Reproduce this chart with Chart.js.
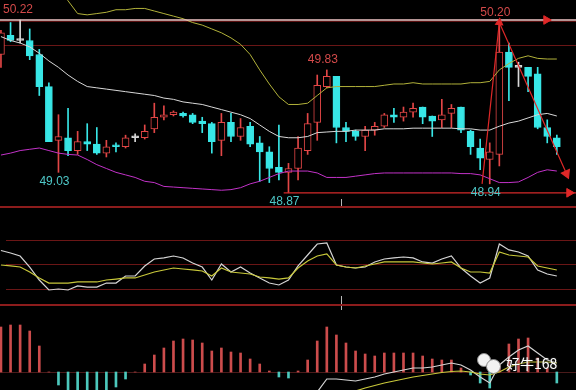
<!DOCTYPE html>
<html>
<head>
<meta charset="utf-8">
<script src="https://cdn.jsdelivr.net/npm/chart.js@4.4.0/dist/chart.umd.min.js"></script>
<style>
  html, body { margin: 0; padding: 0; background: #000; }
  #wrap { position: relative; width: 576px; height: 390px; overflow: hidden; background: #000; }
  canvas { position: absolute; left: 0; }
  .sep { position: absolute; left: 0; width: 576px; height: 2px; background: #8c1c1c; }
  .tick { position: absolute; left: 341px; width: 1px; background: #b8b8b8; }
  .bub { position: absolute; border-radius: 50%; background: #f2f2f2; border: 1px solid #8a8a8a; }
  #wm { position: absolute; left: 506px; top: 353px; color: #fff; font: 14px "Noto Sans CJK SC", sans-serif; text-shadow: 0 0 2px #444; }
</style>
</head>
<body>
<div id="wrap">
  <canvas id="kline" width="576" height="206" style="top:0"></canvas>
  <canvas id="osc" width="576" height="98" style="top:207px"></canvas>
  <canvas id="macd" width="576" height="85" style="top:305px"></canvas>
  <div class="sep" style="top:206px"></div>
  <div class="sep" style="top:304px"></div>
  <div class="tick" style="top:199px;height:7px"></div>
  <div class="tick" style="top:296px;height:8px"></div>
  <div class="tick" style="top:306px;height:4px"></div>
  <div class="bub" style="left:477px;top:353px;width:12px;height:12px"></div>
  <div class="bub" style="left:486px;top:359px;width:13px;height:13px"></div>
  <div id="wm">好牛168</div>
</div>
<script>
// daily candles
const opens = [49.95, 50.10, 50.06, 50.06, 49.95, 49.70, 49.28, 49.30, 49.20, 49.27,
  49.25, 49.18, 49.24, 49.23, 49.30, 49.30, 49.37, 49.46, 49.48, 49.49,
  49.48, 49.43, 49.41, 49.28, 49.42, 49.31, 49.39, 49.26, 49.19, 49.07,
  49.03, 49.06, 49.20, 49.42, 49.70, 49.78, 49.38, 49.35, 49.31, 49.36,
  49.39, 49.48, 49.46, 49.50, 49.54, 49.47, 49.44, 49.49, 49.54, 49.35,
  49.22, 49.13, 49.17, 49.97, 49.85, 49.85, 49.80, 49.38, 49.30];
const closes = [50.12, 50.06, 50.06, 49.94, 49.70, 49.27, 49.31, 49.20, 49.27, 49.25,
  49.18, 49.23, 49.23, 49.30, 49.30, 49.35, 49.46, 49.48, 49.50, 49.47,
  49.42, 49.41, 49.27, 49.42, 49.31, 49.38, 49.25, 49.19, 49.06, 49.03,
  49.06, 49.22, 49.41, 49.71, 49.78, 49.38, 49.35, 49.31, 49.36, 49.39,
  49.48, 49.46, 49.50, 49.53, 49.46, 49.43, 49.48, 49.53, 49.36, 49.23,
  49.14, 49.19, 49.97, 49.85, 49.85, 49.78, 49.38, 49.31, 49.23];
const highs = [50.14, 50.20, 50.22, 50.15, 49.99, 49.73, 49.48, 49.53, 49.35, 49.41,
  49.38, 49.28, 49.26, 49.32, 49.33, 49.40, 49.57, 49.55, 49.51, 49.50,
  49.49, 49.46, 49.42, 49.49, 49.49, 49.45, 49.42, 49.31, 49.23, 49.40,
  49.10, 49.31, 49.49, 49.79, 49.83, 49.78, 49.42, 49.36, 49.39, 49.42,
  49.49, 49.53, 49.54, 49.57, 49.54, 49.47, 49.60, 49.56, 49.54, 49.36,
  49.29, 49.26, 50.20, 50.04, 49.89, 49.85, 49.85, 49.44, 49.32];
const lows = [49.85, 50.05, 50.04, 49.91, 49.63, 49.27, 49.03, 49.16, 49.17, 49.20,
  49.17, 49.15, 49.19, 49.22, 49.27, 49.29, 49.34, 49.44, 49.47, 49.46,
  49.41, 49.34, 49.18, 49.16, 49.27, 49.28, 49.23, 48.96, 48.95, 48.97,
  48.87, 48.97, 49.17, 49.28, 49.69, 49.26, 49.27, 49.28, 49.20, 49.32,
  49.38, 49.42, 49.43, 49.46, 49.41, 49.31, 49.38, 49.38, 49.34, 49.17,
  49.05, 48.94, 49.08, 49.59, 49.70, 49.66, 49.37, 49.26, 49.17];

// bollinger bands
const bollUpper = [50.83, 50.80, 50.76, 50.70, 50.63, 50.55, 50.46, 50.37, 50.27, 50.26,
  50.27, 50.28, 50.30, 50.30, 50.31, 50.31, 50.29, 50.27, 50.25, 50.23,
  50.20, 50.18, 50.15, 50.12, 50.08, 50.03, 49.95, 49.83, 49.72, 49.62,
  49.56, 49.56, 49.57, 49.63, 49.69, 49.70, 49.70, 49.70, 49.70, 49.70,
  49.71, 49.72, 49.72, 49.73, 49.72, 49.72, 49.72, 49.72, 49.72, 49.73,
  49.73, 49.74, 49.83, 49.88, 49.92, 49.94, 49.92, 49.915, 49.915];
const bollMid = [50.09, 50.06, 50.04, 50.01, 49.96, 49.90, 49.85, 49.79, 49.74, 49.70,
  49.69, 49.68, 49.67, 49.66, 49.65, 49.64, 49.63, 49.61, 49.60, 49.58,
  49.57, 49.56, 49.54, 49.52, 49.50, 49.48, 49.45, 49.40, 49.35, 49.31,
  49.30, 49.30, 49.31, 49.34, 49.345, 49.35, 49.35, 49.36, 49.36, 49.36,
  49.37, 49.37, 49.37, 49.375, 49.375, 49.375, 49.375, 49.375, 49.37, 49.37,
  49.36, 49.36, 49.39, 49.415, 49.43, 49.455, 49.48, 49.49, 49.47];
const bollLower = [49.165, 49.18, 49.20, 49.21, 49.22, 49.20, 49.18, 49.17, 49.165, 49.13,
  49.09, 49.06, 49.03, 49.01, 48.99, 48.96, 48.95, 48.92, 48.915, 48.91,
  48.905, 48.90, 48.895, 48.89, 48.895, 48.91, 48.94, 48.96, 48.99, 49.02,
  49.04, 49.04, 49.04, 49.025, 48.99, 48.99, 48.99, 49.00, 49.01, 49.02,
  49.025, 49.025, 49.025, 49.025, 49.025, 49.025, 49.025, 49.025, 49.02, 49.02,
  49.01, 48.98, 48.95, 48.95, 48.955, 48.99, 49.03, 49.05, 49.04];

// marked highs / lows and drawn lines
const highMarks = [2, 34, 52];
const lowMarks = [6, 30, 51];
const trendX = [50.2, 52, 59.0];
const trendY = [48.94, 50.20, 49.02];

// middle panel oscillator
const oscFast = [67.1, 64.1, 60.4, 46.9, 31.0, 18.8, 20.0, 18.8, 23.7, 22.4,
  22.4, 27.3, 27.3, 35.9, 35.9, 48.2, 56.7, 58.0, 60.4, 58.0,
  51.8, 46.9, 31.0, 50.6, 40.8, 46.9, 39.6, 33.5, 27.3, 24.9,
  31.0, 48.2, 61.6, 75.1, 76.3, 49.4, 46.9, 45.7, 46.9, 53.1,
  56.7, 58.0, 59.2, 58.0, 53.1, 51.8, 56.7, 60.4, 45.7, 35.9,
  27.3, 33.5, 75.1, 67.8, 65.3, 60.4, 43.3, 38.4, 35.9];
const oscSlow = [49.4, 48.2, 46.9, 40.8, 33.5, 27.3, 27.3, 27.3, 28.6, 28.6,
  28.6, 31.0, 32.2, 33.5, 33.5, 37.1, 40.8, 43.3, 45.7, 44.5,
  43.3, 42.0, 35.9, 45.7, 40.8, 39.6, 38.4, 34.7, 33.5, 32.2,
  33.5, 45.7, 54.3, 60.4, 62.9, 49.4, 46.9, 45.7, 48.2, 50.6,
  53.1, 53.1, 53.1, 53.1, 51.8, 50.6, 51.8, 53.1, 45.7, 40.8,
  40.8, 39.6, 65.3, 61.6, 60.4, 59.2, 48.2, 45.7, 43.3];
const oscGrid = [20, 50, 80];

// bottom panel macd
const macdHist = [0.045, 0.047, 0.047, 0.041, 0.026, 0.000, -0.013, -0.020, -0.020, -0.020,
  -0.020, -0.018, -0.015, -0.007, 0.000, 0.008, 0.017, 0.024, 0.031, 0.033,
  0.032, 0.029, 0.021, 0.024, 0.020, 0.019, 0.013, 0.008, 0.001, -0.005,
  -0.006, 0.001, 0.012, 0.031, 0.045, 0.037, 0.029, 0.021, 0.018, 0.016,
  0.019, 0.019, 0.019, 0.019, 0.016, 0.013, 0.012, 0.012, 0.004, -0.003,
  -0.011, -0.016, 0.008, 0.028, 0.033, 0.034, 0.014, 0.004, -0.011];
const macdDif = [null, null, null, null, null, null, null, null, null, null,
  null, null, null, null, null, null, null, null, null, null,
  null, null, null, null, null, null, null, null, null, null,
  null, -0.040, -0.030, -0.020, -0.007, -0.007, -0.008, -0.009, -0.007, -0.005,
  -0.002, 0.000, 0.002, 0.004, 0.004, 0.005, 0.007, 0.009, 0.007, 0.002,
  -0.005, -0.011, 0.007, 0.015, 0.022, 0.026, 0.019, 0.012, 0.009];
const macdDea = [null, null, null, null, null, null, null, null, null, null,
  null, null, null, null, null, null, null, null, null, null,
  null, null, null, null, null, null, null, null, null, null,
  null, null, null, null, -0.033, -0.028, -0.023, -0.019, -0.016, -0.0135,
  -0.011, -0.009, -0.007, -0.005, -0.0035, -0.002, -0.0005, 0.0005, 0.001, 0.000,
  -0.002, -0.003, 0.000, 0.005, 0.008, 0.010, 0.010, 0.010, 0.009];

const RED = '#e24646', CYAN = '#38e6e6', FLAT = '#d8d8d8';
const GRID = '#6a1616';
const idx = opens.map((_, i) => i);
const xAxis = { type: 'linear', min: -0.1, max: 60, display: false, offset: false };

function series(arr) {
  return arr.map((v, i) => ({ x: i, y: v }));
}

function lineSet(arr, color, order, width) {
  return { type: 'line', data: series(arr), borderColor: color, borderWidth: width || 1,
    pointRadius: 0, tension: 0, order: order };
}

// grid levels + text marks
const marks = {
  id: 'marks',
  beforeDatasetsDraw(chart, args, opts) {
    const ctx = chart.ctx, y = chart.scales.y;
    (opts.levels || []).forEach(l => {
      const py = Math.round(y.getPixelForValue(l.value)) + 0.5;
      ctx.save();
      ctx.strokeStyle = l.color;
      ctx.lineWidth = 1;
      ctx.beginPath();
      ctx.moveTo(l.left || 0, py);
      ctx.lineTo(chart.width, py);
      ctx.stroke();
      ctx.restore();
    });
  },
  afterDatasetsDraw(chart, args, opts) {
    const ctx = chart.ctx, x = chart.scales.x, y = chart.scales.y;
    (opts.texts || []).forEach(t => {
      ctx.save();
      ctx.font = '12px "Liberation Sans", Arial, sans-serif';
      ctx.fillStyle = t.color;
      ctx.textAlign = 'center';
      ctx.textBaseline = 'middle';
      const w = ctx.measureText(t.text).width;
      const px = Math.max(x.getPixelForValue(t.x) - 4, w / 2 + 3);
      ctx.fillText(t.text, px, y.getPixelForValue(t.y) + t.dy);
      ctx.restore();
    });
  }
};

const baseOptions = {
  responsive: false,
  animation: false,
  events: [],
  layout: { padding: 0, autoPadding: false },
};

// ---- candles + bands
const candleColor = idx.map(i => closes[i] > opens[i] ? RED : closes[i] < opens[i] ? CYAN : FLAT);
const bodyFill = idx.map(i => closes[i] > opens[i] ? '#000' : candleColor[i]);

const texts = highMarks.map(i => ({ x: i, y: highs[i], text: highs[i].toFixed(2), color: '#d44a4a', dy: -10 }))
  .concat(lowMarks.map(i => ({ x: i, y: lows[i], text: lows[i].toFixed(2), color: '#4ec8c8', dy: 9 })));

const resistance = highs[2];
const support = lows[30];

new Chart(document.getElementById('kline'), {
  type: 'bar',
  data: {
    datasets: [
      { data: idx.map(i => ({ x: i, y: [lows[i], highs[i]] })), backgroundColor: candleColor,
        borderWidth: 0, barThickness: 1, grouped: false, order: 5 },
      { data: idx.map(i => ({ x: i, y: [Math.min(opens[i], closes[i]), Math.max(opens[i], closes[i])] })),
        backgroundColor: bodyFill, borderColor: candleColor, borderWidth: 1, borderSkipped: false,
        barThickness: 7, minBarLength: 2, grouped: false, order: 4 },
      lineSet(bollUpper, '#b2b23a', 3),
      lineSet(bollMid, '#d8d8d8', 3),
      lineSet(bollLower, '#c232c8', 3),
      { type: 'line', data: [{ x: -0.1, y: resistance }, { x: 60, y: resistance }],
        borderColor: '#f0c6c6', borderWidth: 1.5, pointRadius: 0, order: 2 },
      { type: 'line', data: [{ x: 29.5, y: support }, { x: 60, y: support }],
        borderColor: '#d42a2a', borderWidth: 1.2, pointRadius: 0, order: 2 },
      { type: 'line', data: trendX.map((v, i) => ({ x: v, y: trendY[i] })),
        borderColor: '#e02828', borderWidth: 1.2, tension: 0, order: 1,
        pointStyle: 'triangle', pointRadius: [0, 4, 5], rotation: [0, 6, 156],
        pointBackgroundColor: '#e02828', pointBorderColor: '#e02828' },
      { type: 'line', showLine: false, data: [{ x: 56.9, y: resistance }, { x: 59.3, y: support }],
        pointStyle: 'triangle', pointRadius: 5, rotation: 90,
        pointBackgroundColor: '#e02828', pointBorderColor: '#e02828', order: 0 }
    ]
  },
  options: Object.assign({}, baseOptions, {
    scales: {
      x: xAxis,
      y: { type: 'linear', min: 48.767, max: 50.376, display: false }
    },
    plugins: {
      legend: { display: false }, tooltip: { enabled: false },
      marks: { levels: [{ value: 50.025, color: GRID }, { value: 50.21, color: '#5a1010' }], texts: texts }
    }
  }),
  plugins: [marks]
});

// ---- oscillator panel
new Chart(document.getElementById('osc'), {
  type: 'line',
  data: {
    datasets: [
      lineSet(oscFast, '#d4d4d4', 1, 1.2),
      lineSet(oscSlow, '#c8c83a', 0, 1.2)
    ]
  },
  options: Object.assign({}, baseOptions, {
    scales: {
      x: xAxis,
      y: { type: 'linear', min: 0.4, max: 120.4, display: false }
    },
    plugins: {
      legend: { display: false }, tooltip: { enabled: false },
      marks: { levels: oscGrid.map(v => ({ value: v, color: GRID, left: 6 })) }
    }
  }),
  plugins: [marks]
});

// ---- macd panel
new Chart(document.getElementById('macd'), {
  type: 'bar',
  data: {
    datasets: [
      { data: series(macdHist), backgroundColor: macdHist.map(v => v >= 0 ? '#cc4c4c' : '#4cc8bc'),
        barThickness: 2, grouped: false, order: 2 },
      lineSet(macdDif, '#d4d4d4', 1, 1.2),
      lineSet(macdDea, '#c8c83a', 0, 1.2)
    ]
  },
  options: Object.assign({}, baseOptions, {
    scales: {
      x: xAxis,
      y: { type: 'linear', min: -0.018, max: 0.067, display: false }
    },
    plugins: {
      legend: { display: false }, tooltip: { enabled: false },
      marks: { levels: [{ value: 0, color: '#4a1a1a' }] }
    }
  }),
  plugins: [marks]
});
</script>
</body>
</html>
